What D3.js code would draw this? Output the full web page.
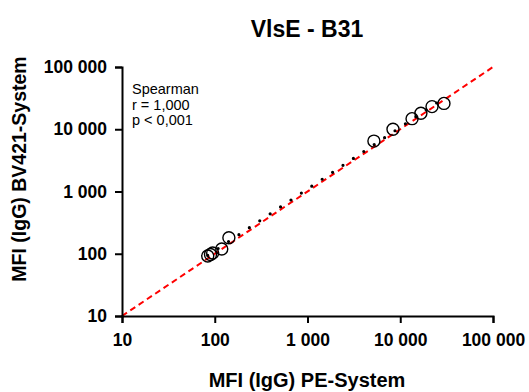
<!DOCTYPE html>
<html>
<head>
<meta charset="utf-8">
<script src="https://cdn.jsdelivr.net/npm/d3@7"></script>
<style>
  body { margin: 0; background: #fff; }
  svg { display: block; font-family: "Liberation Sans", Arial, sans-serif; }
</style>
</head>
<body>
<svg id="chart" width="529" height="392"></svg>
<script>
// values
var peValues    = [84, 90, 95, 119, 142, 5200, 8350, 13400, 16700, 22000, 29600];
var bv421Values = [92, 97, 103, 119, 181, 6450, 10000, 14800, 18100, 23100, 26000];
var tickValues  = [10, 100, 1000, 10000, 100000];
var tickLabels  = ["10", "100", "1 000", "10 000", "100 000"];
var statsLines  = ["Spearman", "r = 1,000", "p < 0,001"];
var chartTitle  = "VlsE - B31";
var xTitle      = "MFI (IgG) PE-System";
var yTitle      = "MFI (IgG) BV421-System";

var svg = d3.select("#chart");
var margin = { left: 122, right: 36, top: 67, bottom: 76 };
var W = 529, H = 392;

var x = d3.scaleLog().domain([10, 100000]).range([margin.left, W - margin.right]);
var y = d3.scaleLog().domain([10, 100000]).range([H - margin.bottom, margin.top]);

var points = peValues.map(function(d, i) { return { x: d, y: bv421Values[i] }; });

// fit line in log space, drawn over the data range
var lx = points.map(function(d) { return Math.log10(d.x); });
var ly = points.map(function(d) { return Math.log10(d.y); });
var mx = d3.mean(lx), my = d3.mean(ly);
var slope = d3.sum(lx, function(v, i) { return (v - mx) * (ly[i] - my); }) /
            d3.sum(lx, function(v) { return (v - mx) * (v - mx); });
var icpt = my - slope * mx;
var xr = d3.extent(peValues);
var fit = xr.map(function(v) { return { x: v, y: Math.pow(10, icpt + slope * Math.log10(v)) }; });

var line = d3.line().x(function(d) { return x(d.x); }).y(function(d) { return y(d.y); });

// identity line
svg.append("path")
  .datum([{ x: 10, y: 10 }, { x: 100000, y: 100000 }])
  .attr("d", line)
  .attr("fill", "none")
  .attr("stroke", "#ff0000")
  .attr("stroke-width", 2)
  .attr("stroke-dasharray", "6 4");

// regression line, round dots
svg.append("path")
  .datum(fit)
  .attr("d", line)
  .attr("fill", "none")
  .attr("stroke", "#000")
  .attr("stroke-width", 3.2)
  .attr("stroke-linecap", "round")
  .attr("stroke-dasharray", "0 12.5");

svg.append("g").selectAll("circle")
  .data(points)
  .enter().append("circle")
  .attr("cx", function(d) { return x(d.x); })
  .attr("cy", function(d) { return y(d.y); })
  .attr("r", 6)
  .attr("fill", "none")
  .attr("stroke", "#000")
  .attr("stroke-width", 1.4);

var fmt = function(d) { return tickLabels[tickValues.indexOf(d)]; };

var xAxis = svg.append("g")
  .attr("transform", "translate(0," + (H - margin.bottom) + ")")
  .call(d3.axisBottom(x).tickValues(tickValues).tickFormat(fmt).tickSize(7).tickPadding(11));

var yAxis = svg.append("g")
  .attr("transform", "translate(" + margin.left + ",0)")
  .call(d3.axisLeft(y).tickValues(tickValues).tickFormat(fmt).tickSize(7).tickPadding(8));

[xAxis, yAxis].forEach(function(g) {
  g.select(".domain").attr("stroke", "#000").attr("stroke-width", 2);
  g.selectAll(".tick line").attr("stroke", "#000").attr("stroke-width", 2);
  g.selectAll(".tick text")
    .attr("fill", "#000")
    .style("font-family", "'Liberation Sans', Arial, sans-serif")
    .style("font-size", "17.5px")
    .style("font-weight", "bold");
});

svg.append("text")
  .attr("x", 307).attr("y", 37)
  .attr("text-anchor", "middle")
  .style("font-size", "23px").style("font-weight", "bold")
  .text(chartTitle);

svg.append("text")
  .attr("x", 307).attr("y", 387)
  .attr("text-anchor", "middle")
  .style("font-size", "20px").style("font-weight", "bold")
  .text(xTitle);

svg.append("text")
  .attr("transform", "translate(26,169) rotate(-90)")
  .attr("text-anchor", "middle")
  .style("font-size", "19.5px").style("font-weight", "bold")
  .text(yTitle);

svg.append("g").selectAll("text")
  .data(statsLines)
  .enter().append("text")
  .attr("x", 132)
  .attr("y", function(d, i) { return 94 + i * 15.5; })
  .style("font-size", "14.5px")
  .text(function(d) { return d; });
</script>
</body>
</html>
